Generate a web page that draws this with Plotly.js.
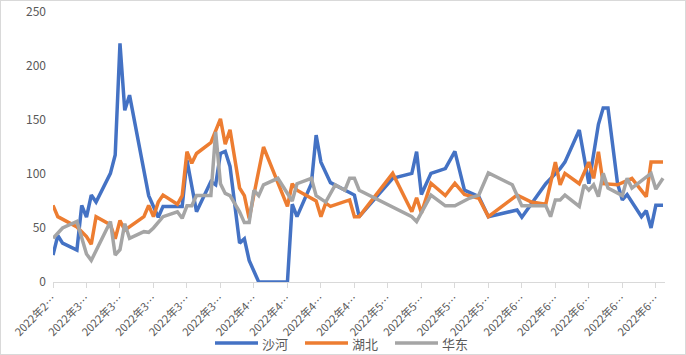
<!DOCTYPE html>
<html>
<head>
<meta charset="utf-8">
<script src="https://cdn.plot.ly/plotly-3.0.1.min.js"></script>
<style>
  html, body { margin: 0; padding: 0; background: #fff; }
  #wrap { width: 684px; height: 353px; border: 1px solid #d9d9d9; }
  #chart { width: 684px; height: 353px; }
</style>
</head>
<body>
<div id="wrap"><div id="chart"></div></div>
<script>
// ---- data ----
const shaheDates = ['2022-02-23','2022-02-24','2022-02-25','2022-02-28','2022-03-01','2022-03-02','2022-03-03','2022-03-04','2022-03-07','2022-03-08','2022-03-09','2022-03-10','2022-03-11','2022-03-14','2022-03-15','2022-03-17','2022-03-18','2022-03-22','2022-03-23','2022-03-25','2022-03-28','2022-03-29','2022-03-30','2022-03-31','2022-04-01','2022-04-03','2022-04-04','2022-04-05','2022-04-07','2022-04-13','2022-04-14','2022-04-15','2022-04-18','2022-04-19','2022-04-20','2022-04-22','2022-04-27','2022-04-28','2022-05-05','2022-05-09','2022-05-10','2022-05-11','2022-05-13','2022-05-16','2022-05-18','2022-05-20','2022-05-23','2022-05-25','2022-05-31','2022-06-01','2022-06-06','2022-06-09','2022-06-10','2022-06-13','2022-06-15','2022-06-17','2022-06-18','2022-06-19','2022-06-21','2022-06-22','2022-06-23','2022-06-26','2022-06-27','2022-06-28','2022-06-29','2022-06-30 12:00'];
const shaheValues = [25,43,36,29.6,71,60,80.5,74,100.6,117.6,221,159,173,100.6,80,60,70,70,113,65,93,90,119,121,107,36,40,20,0,0,72,60.5,91,136,111,92,80.5,60.5,96,100.6,120.6,81,100.6,105,121,85,79,60.5,66.7,60,91,105,111,140.7,91,146,161,161,91,76,81,60.5,66,50,71,71];

const hubeiDates = ['2022-02-23','2022-02-24','2022-02-28','2022-03-02','2022-03-03','2022-03-04','2022-03-07','2022-03-08','2022-03-09','2022-03-10','2022-03-14','2022-03-15','2022-03-16','2022-03-17','2022-03-18','2022-03-21','2022-03-22','2022-03-23','2022-03-24','2022-03-25','2022-03-28','2022-03-30','2022-03-31','2022-04-01','2022-04-03','2022-04-04','2022-04-05','2022-04-08','2022-04-13','2022-04-14','2022-04-15','2022-04-18','2022-04-19','2022-04-20','2022-04-21','2022-04-22','2022-04-26','2022-04-27','2022-04-28','2022-05-05','2022-05-09','2022-05-10','2022-05-11','2022-05-13','2022-05-16','2022-05-18','2022-05-20','2022-05-23','2022-05-25','2022-05-31','2022-06-03','2022-06-06','2022-06-08','2022-06-09','2022-06-10','2022-06-13','2022-06-15','2022-06-16','2022-06-17','2022-06-18','2022-06-21','2022-06-24','2022-06-27','2022-06-28','2022-06-30 12:00'];
const hubeiValues = [71,60.5,51,42,35,60.5,53,40,57,48,60.5,71,60.5,74,80.5,72,80,120.6,110,119,129,151,127.5,141,87,80,59,125,70,91,85,77.5,75,60.5,73,70,76,60.5,60.5,100.6,65,78,64,91.4,80,91.4,81,77.5,60.5,80.5,74,72,111,90,100.6,91,111,96,120.6,91,90,96,79,111,111];

const huadongDates = ['2022-02-23','2022-02-25','2022-02-28','2022-03-02','2022-03-03','2022-03-07','2022-03-08','2022-03-09','2022-03-10','2022-03-11','2022-03-14','2022-03-15','2022-03-16','2022-03-18','2022-03-21','2022-03-22','2022-03-23','2022-03-24','2022-03-25','2022-03-28','2022-03-29','2022-03-30','2022-03-31','2022-04-01','2022-04-03','2022-04-04','2022-04-05','2022-04-06','2022-04-07','2022-04-08','2022-04-11','2022-04-14','2022-04-15','2022-04-18','2022-04-19','2022-04-21','2022-04-23','2022-04-25','2022-04-26','2022-04-27','2022-04-28','2022-05-09','2022-05-10','2022-05-13','2022-05-16','2022-05-18','2022-05-21','2022-05-23','2022-05-25','2022-05-30','2022-06-01','2022-06-06','2022-06-07','2022-06-08','2022-06-09','2022-06-10','2022-06-13','2022-06-14','2022-06-15','2022-06-16','2022-06-17','2022-06-18','2022-06-19','2022-06-22','2022-06-23','2022-06-24','2022-06-28','2022-06-29','2022-06-30 12:00'];
const huadongValues = [40.4,50,56,26,20,56,25,30,54,40.4,46.6,46,50,60.5,65,59,70.5,70.5,80,80,139,91,82,80,65,55,55,85,80,90,96,75,91,96,80,74,90,85,96,96,85,60.5,56,80.5,70.5,70.5,77.5,80.5,101,90,70.5,70.5,60.5,76,76,80.5,70,90,85,90,79,100.6,87,80,96,87,100.6,86,96];

const tickDates = ['2022-02-23','2022-03-02','2022-03-09','2022-03-16','2022-03-23','2022-03-30','2022-04-06','2022-04-13','2022-04-20','2022-04-27','2022-05-04','2022-05-11','2022-05-18','2022-05-25','2022-06-01','2022-06-08','2022-06-15','2022-06-22','2022-06-29'];
const tickLabels = ['2022年2…','2022年3…','2022年3…','2022年3…','2022年3…','2022年3…','2022年4…','2022年4…','2022年4…','2022年4…','2022年5…','2022年5…','2022年5…','2022年5…','2022年6…','2022年6…','2022年6…','2022年6…','2022年6…'];

const seriesNames = ['沙河','湖北','华东'];
const seriesColors = ['#4472C4','#ED7D31','#A5A5A5'];

const FONT = '"Noto Sans CJK SC", "Microsoft YaHei", sans-serif';

const xs = [shaheDates, hubeiDates, huadongDates];
const ys = [shaheValues, hubeiValues, huadongValues];

const traces = seriesNames.map((name, i) => ({
  type: 'scatter',
  mode: 'lines',
  name: name,
  x: xs[i],
  y: ys[i],
  line: { color: seriesColors[i], width: 3.5, shape: 'linear' },
  showlegend: false,
  hoverinfo: 'x+y+name'
}));

// ---- legend drawn at the bottom (Excel-style: long line sample, text right after) ----
const PLOT_W = 612, PLOT_H = 270;          // plot area size in px
const legendRowY = -61 / PLOT_H;           // 61 px below the x axis
const legendStartPx = 162;                 // first sample, px from plot left
const sampleLen = 43, itemStride = 90;     // px
const shapes = [], annotations = [];
seriesNames.forEach((name, i) => {
  const x0 = legendStartPx + i * itemStride;
  shapes.push({
    type: 'line', xref: 'paper', yref: 'paper',
    x0: x0 / PLOT_W, x1: (x0 + sampleLen) / PLOT_W,
    y0: legendRowY, y1: legendRowY,
    line: { color: seriesColors[i], width: 3.5 }
  });
  annotations.push({
    xref: 'paper', yref: 'paper',
    x: (x0 + sampleLen + 2) / PLOT_W, y: legendRowY,
    xanchor: 'left', yanchor: 'middle',
    text: name, showarrow: false,
    font: { family: FONT, size: 13, color: '#595959' }
  });
});

const layout = {
  width: 684,
  height: 353,
  margin: { l: 52, r: 20, t: 11, b: 72, autoexpand: false },
  paper_bgcolor: '#ffffff',
  plot_bgcolor: '#ffffff',
  font: { family: FONT, color: '#595959', size: 12 },
  showlegend: false,
  shapes: shapes,
  annotations: annotations,
  xaxis: {
    type: 'date',
    range: ['2022-02-23', '2022-06-30 22:00'],
    tickmode: 'array',
    tickvals: tickDates,
    ticktext: tickLabels,
    tickangle: -45,
    tickfont: { family: FONT, size: 11, color: '#595959' },
    ticks: 'outside',
    ticklen: 5,
    tickcolor: '#d9d9d9',
    showline: true,
    linecolor: '#d9d9d9',
    linewidth: 1,
    showgrid: false,
    zeroline: false
  },
  yaxis: {
    range: [0, 250],
    tickvals: [0, 50, 100, 150, 200, 250],
    tickfont: { family: FONT, size: 12, color: '#595959' },
    showgrid: false,
    zeroline: false,
    showline: false,
    ticks: '',
    ticklabelstandoff: 6
  }
};

Plotly.newPlot('chart', traces, layout, { displayModeBar: false, staticPlot: true });
</script>
</body>
</html>
